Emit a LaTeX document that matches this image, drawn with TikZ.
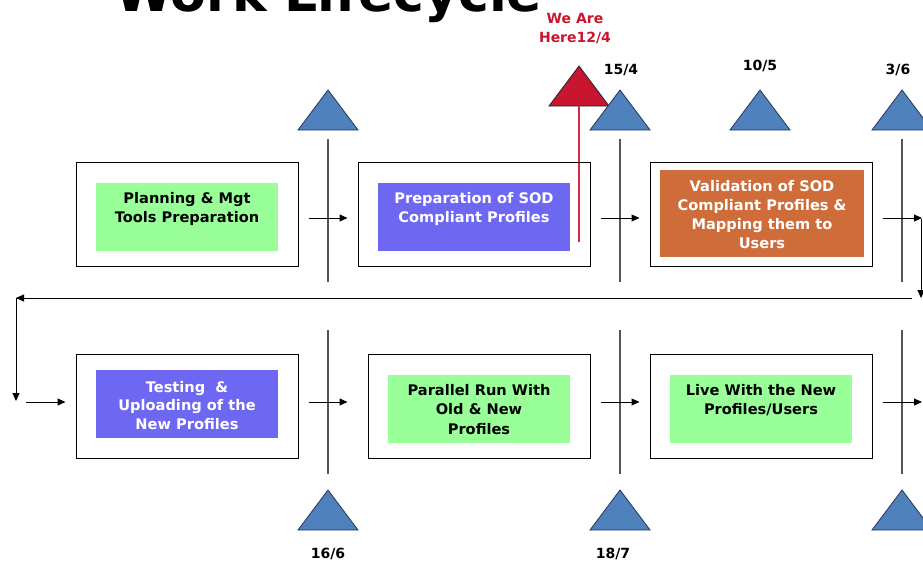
\documentclass[tikz,border=0pt]{standalone}
\usepackage{fontspec}
\newfontfamily\dv{DejaVu Sans}
\usetikzlibrary{arrows.meta,calc}
\definecolor{tgreen}{RGB}{153,255,153}
\definecolor{tpurple}{RGB}{110,103,242}
\definecolor{torange}{RGB}{206,108,58}
\definecolor{tblue}{RGB}{79,129,189}
\definecolor{tnavy}{RGB}{35,50,85}
\definecolor{tred}{RGB}{200,22,46}
\definecolor{tpink}{RGB}{215,40,70}
\definecolor{tline}{RGB}{85,85,85}
\tikzset{
  outerbox/.style={draw=black, line width=1pt, minimum width=222pt, minimum height=104pt, inner sep=0pt},
  innerbox/.style={minimum width=182pt, minimum height=68pt, inner sep=0pt},
  boxtext/.style={font=\dv\bfseries\fontsize{14.6}{18.8}\selectfont, align=center, inner sep=0pt, anchor=north},
  datelbl/.style={font=\dv\bfseries\fontsize{14}{16}\selectfont, inner sep=0pt, anchor=base},
  redlbl/.style={font=\dv\bfseries\fontsize{14}{19}\selectfont, text=tred, align=center, inner sep=0pt, anchor=north},
  arr/.style={-{Triangle[length=8pt,width=7pt]}, line width=1pt},
  tline/.style={draw=tline, line width=1.3pt},
  bluetri/.style={fill=tblue, draw=tnavy, line width=0.8pt},
  redtri/.style={fill=tred, draw=tnavy!70!black, line width=0.8pt},
}
\begin{document}
\begin{tikzpicture}[x=1pt,y=-1pt]
\useasboundingbox (0,0) rectangle (923,565);
\clip (0,0) rectangle (923,565);
\fill[white] (0,0) rectangle (923,565);

% title (cut off at the top, as in the reference)
\node[font=\dv\bfseries\fontsize{52}{60}\selectfont, anchor=base west, inner sep=0pt] (title) at (115,11) {Work Lifecycle};

% timeline lines
\foreach \x in {328,620,902} {
  \draw[tline] (\x,139) -- (\x,282);
  \draw[tline] (\x,330) -- (\x,474);
}

% milestone triangles
\draw[redtri] (549,106) -- (579,66) -- (609,106) -- cycle;
\coordinate (redbase) at (579,106);
\coordinate (redend) at (579,242);
\draw[tpink, line width=1.4pt] (redbase) -- (redend);
\foreach \cx/\ty in {328/90, 620/90, 760/90, 902/90, 328/490, 620/490, 902/490}
  \draw[bluetri] ({\cx-30},{\ty+40}) -- (\cx,\ty) -- ({\cx+30},{\ty+40}) -- cycle;

% labels
\node[redlbl] (here) at (575,13) {We Are\\Here12/4};
\node[datelbl] (d1) at (621,74) {15/4};
\node[datelbl] (d2) at (760,70) {10/5};
\node[datelbl] (d3) at (898,74) {3/6};
\node[datelbl] (d4) at (328,558) {16/6};
\node[datelbl] (d5) at (613,558) {18/7};

% top row boxes
\node[outerbox] (b1) at (187,214) {};
\node[outerbox, minimum width=232pt] (b2) at (474,214) {};
\node[outerbox] (b3) at (761,214) {};
\node[innerbox, fill=tgreen] (i1) at (187,217) {};
\node[innerbox, fill=tpurple, minimum width=192pt] (i2) at (474,217) {};
\node[innerbox, fill=torange, minimum width=204pt, minimum height=87pt] (i3) at (762,213.5) {};
\node[boxtext] (t1) at (187,192) {Planning \& Mgt\\Tools Preparation};
\node[boxtext, text=white] (t2) at (474,192) {Preparation of SOD\\Compliant Profiles};
\node[boxtext, text=white, font=\dv\bfseries\fontsize{14.6}{19}\selectfont] (t3) at (762,180) {Validation of SOD\\Compliant Profiles \&\\Mapping them to\\Users};

% bottom row boxes
\node[outerbox] (b4) at (187,406) {};
\node[outerbox] (b5) at (479,406) {};
\node[outerbox] (b6) at (761,406) {};
\node[innerbox, fill=tpurple] (i4) at (187,404) {};
\node[innerbox, fill=tgreen] (i5) at (479,409) {};
\node[innerbox, fill=tgreen] (i6) at (761,409) {};
\node[boxtext, text=white, font=\dv\bfseries\fontsize{14.6}{18.5}\selectfont] (t4) at (187,381) {Testing \ \&\\Uploading of the\\New Profiles};
\node[boxtext, font=\dv\bfseries\fontsize{14.6}{19.5}\selectfont] (t5) at (479,384) {Parallel Run With\\Old \& New\\Profiles};
\node[boxtext, font=\dv\bfseries\fontsize{14.6}{19.5}\selectfont] (t6) at (761,384) {Live With the New\\Profiles/Users};

% connectors
\coordinate (c1) at (922,218);
\coordinate (c2) at (921,219);
\coordinate (c3) at (921,298);
\coordinate (c4) at (912,298);
\coordinate (c5) at (16,298);
\coordinate (c6) at (16,401);
\coordinate (c7) at (26,402);
\coordinate (c8) at (922,402);
\draw[arr] ([xshift=10pt,yshift=-4pt]b1.east) -- ([xshift=-10pt,yshift=-4pt]b2.west);
\draw[arr] ([xshift=10pt,yshift=-4pt]b2.east) -- ([xshift=-10pt,yshift=-4pt]b3.west);
\draw[arr] ([xshift=10pt,yshift=-4pt]b3.east) -- (c1);
\draw[arr] (c2) -- (c3);
\draw[arr] (c4) -- (c5);
\draw[arr] (c5) -- (c6);
\draw[arr] (c7) -- ([xshift=-10pt,yshift=4pt]b4.west);
\draw[arr] ([xshift=10pt,yshift=4pt]b4.east) -- ([xshift=-20pt,yshift=4pt]b5.west);
\draw[arr] ([xshift=10pt,yshift=4pt]b5.east) -- ([xshift=-10pt,yshift=4pt]b6.west);
\draw[arr] ([xshift=10pt,yshift=4pt]b6.east) -- (c8);
\end{tikzpicture}
\end{document}
